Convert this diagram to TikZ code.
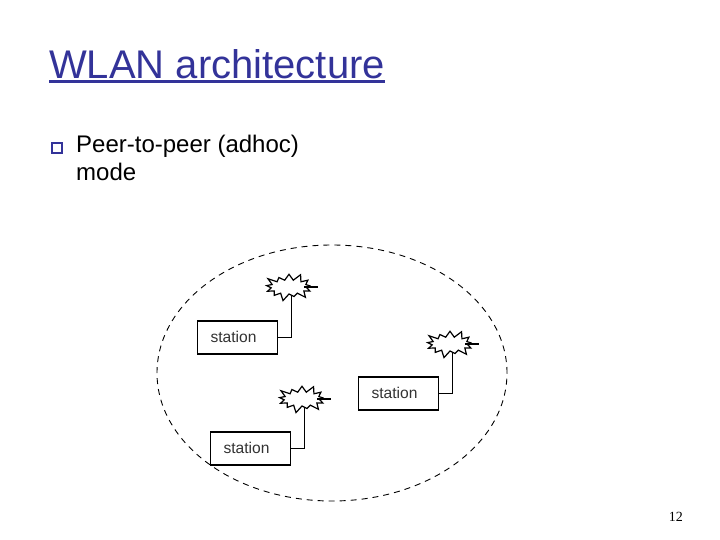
\documentclass[tikz,border=0pt]{standalone}
\usepackage{fontspec}
\setmainfont{Liberation Sans}
\newfontfamily\numfont{Liberation Serif}
\usetikzlibrary{shapes.symbols, shapes.geometric}
\definecolor{titleblue}{RGB}{51,51,153}
\newcommand{\stationtext}{\raisebox{2pt}{station}\hspace{8pt}\null}
\tikzset{
  stationbox/.style={rectangle, draw=black, line width=1.2pt, fill=white, minimum width=80pt, minimum height=33pt, inner sep=0pt, font=\fontsize{15.6}{18}\selectfont, text=black!80},
  burst/.style={starburst, draw=black, line width=1.2pt, fill=white, starburst points=13, starburst point height=8pt, minimum width=52pt, minimum height=30pt, inner sep=0pt},
  wire/.style={line width=1.2pt, draw=black},
  spike/.style={line width=2pt, draw=black}
}
\begin{document}
\begin{tikzpicture}[x=1pt, y=-1pt]
  \useasboundingbox (0,0) rectangle (720,540);

  \node[anchor=base west, inner sep=0pt, text=titleblue, font=\fontsize{40}{44}\selectfont](title) at (49,79) {WLAN architecture};
  \draw[titleblue, line width=3pt] ([yshift=-3pt]title.base west) -- ([yshift=-3pt]title.base east);

  \node[rectangle, draw=titleblue, line width=1.8pt, minimum size=10pt, inner sep=0pt](bullet) at (57,148) {};
  \node[anchor=base west, inner sep=0pt, font=\fontsize{24}{28}\selectfont](peer) at (76,153) {Peer-to-peer (adhoc)};
  \node[anchor=base west, inner sep=0pt, font=\fontsize{24}{28}\selectfont](mode) at (76,181) {mode};

  \node[ellipse, draw=black, line width=0.9pt, dash pattern=on 6pt off 5pt, minimum width=350pt, minimum height=256pt, inner sep=0pt](cell) at (332,373) {};

  \node[stationbox](S0) at (237.5,337.5) {\stationtext};
  \node[stationbox](S1) at (398.5,393.5) {\stationtext};
  \node[stationbox](S2) at (250.5,448.5) {\stationtext};

  \node[burst](B0) at (289,287) {};
  \node[burst](B1) at (450,344) {};
  \node[burst](B2) at (302,399) {};

  \draw[spike] ([xshift=-5pt]B0.east) -- ([xshift=9pt]B0.east);
  \draw[spike] ([xshift=-5pt]B1.east) -- ([xshift=9pt]B1.east);
  \draw[spike] ([xshift=-5pt]B2.east) -- ([xshift=9pt]B2.east);

  \draw[wire, line width=1.5pt] (S0.east) -| ([xshift=2.5pt]B0.south);
  \draw[wire] (S1.east) -| ([xshift=2.5pt]B1.south);
  \draw[wire] (S2.east) -| ([xshift=2.5pt]B2.south);

  \node[anchor=base east, inner sep=0pt, font=\numfont\fontsize{14}{16}\selectfont](page) at (683,521) {12};
\end{tikzpicture}
\end{document}
